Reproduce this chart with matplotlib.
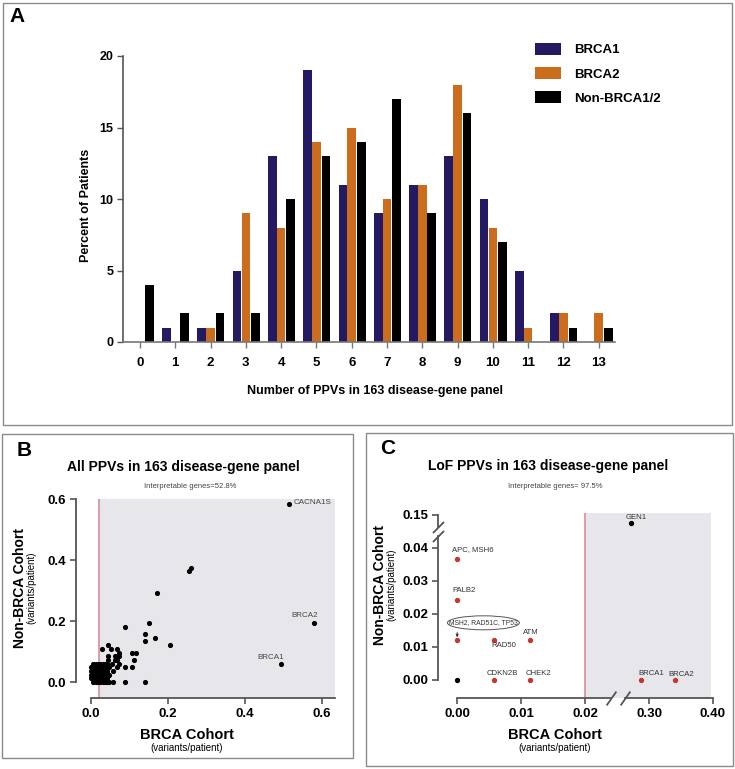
import matplotlib
matplotlib.use("Agg")
import numpy as np
import matplotlib.pyplot as plt
import matplotlib.transforms as mtransforms
from matplotlib.patches import Rectangle, Ellipse

plt.rcParams['font.family'] = ['Liberation Sans', 'DejaVu Sans']

# ---------------- data ----------------
n_ppv = list(range(14))
brca1_pct = [0, 1, 1, 5, 13, 19, 11, 9, 11, 13, 10, 5, 2, 0]
brca2_pct = [0, 0, 1, 9, 8, 14, 15, 10, 11, 18, 8, 1, 2, 2]
non_brca_pct = [4, 2, 2, 2, 10, 13, 14, 17, 9, 16, 7, 0, 1, 1]

# panel B: all PPVs, (BRCA cohort, non-BRCA cohort) variants/patient
b_x = [0.259, 0.254, 0.171, 0.089, 0.150, 0.139, 0.139, 0.166, 0.205, 0.106,
       0.117, 0.111, 0.106, 0.089, 0.089, 0.139, 0.058,
       0.029, 0.045, 0.051, 0.068, 0.074, 0.045, 0.062, 0.073, 0.045, 0.062,
       0.068, 0.074, 0.068, 0.058, 0.054,
       0.006, 0.012, 0.018, 0.024, 0.030, 0.036, 0.042,
       0.000, 0.006, 0.012, 0.018, 0.024, 0.030, 0.036, 0.042, 0.048,
       0.000, 0.006, 0.012, 0.018, 0.024, 0.030, 0.036, 0.042,
       0.000, 0.006, 0.012, 0.018, 0.024, 0.030, 0.036, 0.042, 0.048,
       0.000, 0.006, 0.012, 0.018, 0.024, 0.030, 0.036, 0.042,
       0.006, 0.012, 0.018, 0.024, 0.030, 0.036, 0.042, 0.048]
b_y = [0.375, 0.364, 0.292, 0.182, 0.194, 0.157, 0.134, 0.146, 0.121, 0.097,
       0.097, 0.073, 0.048, 0.048, 0.000, 0.000, 0.000,
       0.109, 0.121, 0.109, 0.109, 0.097, 0.085, 0.085, 0.085, 0.073, 0.073,
       0.073, 0.061, 0.049, 0.036, 0.061,
       0.060, 0.060, 0.060, 0.060, 0.060, 0.060, 0.060,
       0.048, 0.048, 0.048, 0.048, 0.048, 0.048, 0.048, 0.048, 0.048,
       0.036, 0.036, 0.036, 0.036, 0.036, 0.036, 0.036, 0.036,
       0.024, 0.024, 0.024, 0.024, 0.024, 0.024, 0.024, 0.024, 0.024,
       0.012, 0.012, 0.012, 0.012, 0.012, 0.012, 0.012, 0.012,
       0.000, 0.000, 0.000, 0.000, 0.000, 0.000, 0.000, 0.000]
b_named = ['CACNA1S', 'BRCA2', 'BRCA1']
b_named_x = [0.515, 0.580, 0.494]
b_named_y = [0.583, 0.193, 0.060]

# panel C: LoF PPVs
c_red_labels = ['APC, MSH6', 'PALB2', 'MSH2, RAD51C, TP53', 'RAD50', 'ATM',
                'CDKN2B', 'CHEK2', 'BRCA1', 'BRCA2']
c_red_x = [0.0, 0.0, 0.0, 0.0057, 0.0114, 0.0057, 0.0114, 0.288, 0.340]
c_red_y = [0.0366, 0.0242, 0.0121, 0.0121, 0.0121, 0.0, 0.0, 0.0, 0.0]
c_black_labels = ['', 'GEN1']
c_black_x = [0.0, 0.271]
c_black_y = [0.0, 0.1475]

W, H = 735, 769
fig = plt.figure(figsize=(W / 100, H / 100), dpi=100)


def fx(px):
    return px / W


def fy(py):
    return 1 - py / H


def box(x0, y0, x1, y1):
    fig.patches.append(Rectangle((fx(x0), fy(y1)), fx(x1 - x0), (y1 - y0) / H,
                                 transform=fig.transFigure, fill=False,
                                 edgecolor='#8a8a8a', lw=1.0))


box(3, 3, 732, 425)
box(2, 434, 353, 758)
box(366, 433, 733, 766)

C1, C2, C3 = '#241a63', '#cc6d1e', '#000000'
SP = '#555555'

# ---------------- panel A ----------------
axA = fig.add_axes([fx(123), fy(342), fx(615 - 123), (342 - 56) / H])
x = np.array(n_ppv)
w = 0.245
axA.bar(x - 0.25, brca1_pct, w, color=C1, label='BRCA1')
axA.bar(x, brca2_pct, w, color=C2, label='BRCA2')
axA.bar(x + 0.27, non_brca_pct, w, color=C3, label='Non-BRCA1/2')
axA.set_xlim(-0.48, 13.46)
axA.set_ylim(0, 20)
axA.set_yticks([0, 5, 10, 15, 20])
axA.set_xticks(n_ppv)
for s in ['top', 'right']:
    axA.spines[s].set_visible(False)
axA.spines['left'].set_color(SP)
axA.spines['bottom'].set_color('#777777')
axA.spines['left'].set_linewidth(1.2)
axA.spines['bottom'].set_linewidth(1.2)
axA.tick_params(axis='y', length=4, width=1, color=SP, labelsize=9, pad=3)
axA.tick_params(axis='x', length=4, width=1, color='#777777', labelsize=9.5, pad=7)
for t in axA.get_xticklabels() + axA.get_yticklabels():
    t.set_fontweight('bold')
fig.text(fx(86), fy(205), 'Percent of Patients', rotation=90, ha='center',
         va='center', fontsize=9, fontweight='bold')
fig.text(fx(375), fy(391), 'Number of PPVs in 163 disease-gene panel',
         ha='center', va='center', fontsize=9, fontweight='bold')
axA.legend(loc='upper left', bbox_to_anchor=(fx(528), fy(36)),
           bbox_transform=fig.transFigure, frameon=False,
           prop={'weight': 'bold', 'size': 9.5}, handlelength=2.0,
           handleheight=1.1, labelspacing=0.78, handletextpad=1.0, borderpad=0)
fig.text(fx(9), fy(16), 'A', fontsize=15, fontweight='bold', va='center')

# ---------------- panel B ----------------
axB = fig.add_axes([fx(76), fy(698), fx(335 - 76), (698 - 499) / H])
axB.set_xlim(-0.039, 0.634)
axB.set_ylim(-0.052, 0.6)
axB.axvspan(0.02, 0.634, color='#e7e7eb', lw=0, zorder=0)
axB.axvline(0.02, color='#d88d9c', lw=1.2, zorder=1)
axB.plot(b_x, b_y, 'o', color='black', ms=2.7, zorder=3)
axB.plot(b_named_x, b_named_y, 'o', color='black', ms=2.7, zorder=3)
axB.text(b_named_x[0] + 0.012, b_named_y[0] + 0.004, b_named[0], fontsize=5.8,
         color='#444444', va='center', ha='left')
axB.text(b_named_x[1] - 0.024, b_named_y[1] + 0.024, b_named[1], fontsize=5.8,
         color='#444444', va='center', ha='center')
axB.text(b_named_x[2] - 0.028, b_named_y[2] + 0.022, b_named[2], fontsize=5.8,
         color='#444444', va='center', ha='center')
axB.set_xticks([0, 0.2, 0.4, 0.6])
axB.set_yticks([0, 0.2, 0.4, 0.6])
axB.set_xticklabels(['0.0', '0.2', '0.4', '0.6'])
axB.set_yticklabels(['0.0', '0.2', '0.4', '0.6'])
for s in ['top', 'right']:
    axB.spines[s].set_visible(False)
axB.spines['left'].set_bounds(0, 0.6)
axB.spines['bottom'].set_bounds(0, 0.634)
for s in ['left', 'bottom']:
    axB.spines[s].set_color(SP)
    axB.spines[s].set_linewidth(1.3)
axB.tick_params(length=4, width=1.2, color=SP, labelsize=9.5, pad=3)
for t in axB.get_xticklabels() + axB.get_yticklabels():
    t.set_fontweight('bold')
fig.text(fx(17), fy(450), 'B', fontsize=15, fontweight='bold', va='center')
fig.text(fx(183), fy(467), 'All PPVs in 163 disease-gene panel', fontsize=10,
         fontweight='bold', ha='center', va='center')
fig.text(fx(190), fy(487), 'Interpretable genes=52.8%', fontsize=5.5,
         color='#444444', ha='center', va='center')
fig.text(fx(20), fy(588), 'Non-BRCA Cohort', rotation=90, fontsize=10,
         fontweight='bold', ha='center', va='center')
fig.text(fx(31), fy(588), '(variants/patient)', rotation=90, fontsize=7,
         ha='center', va='center')
fig.text(fx(187), fy(735), 'BRCA Cohort', fontsize=10.5, fontweight='bold',
         ha='center', va='center')
fig.text(fx(187), fy(748), '(variants/patient)', fontsize=7,
         ha='center', va='center')

# ---------------- panel C ----------------
xa = [-1.0, 0.0245, 0.25, 2.0]
xb = [-1.0, 0.0245, 0.025, 0.025 + 1.75 / 10]
ya = [-1.0, 0.044, 0.145, 2.0]
yb = [-1.0, 0.044, 0.045, 0.045 + 1.855]


def xf(v):
    return np.interp(v, xa, xb)


def xi(v):
    return np.interp(v, xb, xa)


def yf(v):
    return np.interp(v, ya, yb)


def yi(v):
    return np.interp(v, yb, ya)


axC = fig.add_axes([fx(438), fy(698), fx(713 - 438), (698 - 513) / H])
axC.set_xscale('function', functions=(xf, xi))
axC.set_yscale('function', functions=(yf, yi))
axC.set_xlim(-0.003, 0.40)
axC.set_ylim(-0.0055, 0.1506)
axC.axvspan(0.02, 0.397, color='#e7e7eb', lw=0, zorder=0)
axC.axvline(0.02, color='#d88d9c', lw=1.2, zorder=1)
axC.plot(c_red_x, c_red_y, 'o', color='#c8352b', ms=2.8, zorder=3)
axC.plot(c_black_x, c_black_y, 'o', color='black', ms=2.8, zorder=3)
lab_kw = dict(fontsize=5.6, color='#333333')
axC.text(-0.0008, c_red_y[0] + 0.0018, c_red_labels[0], ha='left', va='bottom', **lab_kw)
axC.text(-0.0008, c_red_y[1] + 0.0018, c_red_labels[1], ha='left', va='bottom', **lab_kw)

# grouped label in an ellipse with a small arrow to its point
grp_xy = (0.0041, 0.0173)
axC.annotate(c_red_labels[2], xy=(0.0, c_red_y[2] + 0.0008),
             xytext=(0.0, 0.0155), ha='center', va='center',
             arrowprops=dict(arrowstyle='-|>', color='#333333', lw=0.6,
                             shrinkA=0, shrinkB=0, mutation_scale=4),
             fontsize=0.1, color='none')
axC.text(grp_xy[0], grp_xy[1], c_red_labels[2], ha='center', va='center',
         fontsize=4.9, color='#333333')
fig.canvas.draw()
cxy = axC.transAxes.inverted().transform(axC.transData.transform(grp_xy))
axC.add_patch(Ellipse(cxy, 72 / 275, 14 / 185, transform=axC.transAxes,
                      fill=False, ec='#555555', lw=0.7, zorder=4))

axC.text(c_red_x[3] + 0.0016, c_red_y[3] - 0.0018, c_red_labels[3], ha='center', va='center', **lab_kw)
axC.text(c_red_x[4] + 0.0001, c_red_y[4] + 0.0022, c_red_labels[4], ha='center', va='center', **lab_kw)
axC.text(c_red_x[5] + 0.0014, c_red_y[5] + 0.0018, c_red_labels[5], ha='center', va='center', **lab_kw)
axC.text(c_red_x[6] + 0.0013, c_red_y[6] + 0.0018, c_red_labels[6], ha='center', va='center', **lab_kw)
axC.text(c_red_x[7] + 0.015, c_red_y[7] + 0.0018, c_red_labels[7], ha='center', va='center', **lab_kw)
axC.text(c_red_x[8] + 0.010, c_red_y[8] + 0.0015, c_red_labels[8], ha='center', va='center', **lab_kw)
axC.text(c_black_x[1] + 0.009, 0.1493, c_black_labels[1], ha='center', va='center', **lab_kw)

axC.set_xticks([0, 0.01, 0.02, 0.30, 0.40])
axC.set_xticklabels(['0.00', '0.01', '0.02', '0.30', '0.40'])
axC.set_yticks([0, 0.01, 0.02, 0.03, 0.04, 0.15])
axC.set_yticklabels(['0.00', '0.01', '0.02', '0.03', '0.04', '0.15'])
axC.xaxis.set_minor_locator(matplotlib.ticker.NullLocator())
axC.yaxis.set_minor_locator(matplotlib.ticker.NullLocator())
for s in ['top', 'right']:
    axC.spines[s].set_visible(False)
axC.spines['left'].set_bounds(0, 0.0435)
axC.spines['bottom'].set_bounds(0, 0.024)
for s in ['left', 'bottom']:
    axC.spines[s].set_color(SP)
    axC.spines[s].set_linewidth(1.3)
tr_y = mtransforms.blended_transform_factory(axC.transAxes, axC.transData)
tr_x = mtransforms.blended_transform_factory(axC.transData, axC.transAxes)
axC.plot([0, 0], [0.1465, 0.15], color=SP, lw=1.3, transform=tr_y, clip_on=False)
axC.plot([0.263, 0.40], [0, 0], color=SP, lw=1.3, transform=tr_x, clip_on=False)
axC.plot([0, 0], [0.0435, 0.1465], transform=tr_y, ls='none', marker=[(-1, -1), (1, 1)],
         ms=8, mew=1.3, color=SP, clip_on=False)
axC.plot([0.024, 0.263], [0, 0], transform=tr_x, ls='none', marker=[(-0.7, -1), (0.7, 1)],
         ms=10, mew=1.3, color=SP, clip_on=False)
axC.tick_params(length=4, width=1.2, color=SP, labelsize=9.5, pad=3)
for t in axC.get_xticklabels() + axC.get_yticklabels():
    t.set_fontweight('bold')
fig.text(fx(380), fy(448), 'C', fontsize=15, fontweight='bold', va='center')
fig.text(fx(548), fy(466), 'LoF PPVs in 163 disease-gene panel', fontsize=10,
         fontweight='bold', ha='center', va='center')
fig.text(fx(555), fy(487), 'Interpretable genes= 97.5%', fontsize=5.5,
         color='#444444', ha='center', va='center')
fig.text(fx(380), fy(585), 'Non-BRCA Cohort', rotation=90, fontsize=10,
         fontweight='bold', ha='center', va='center')
fig.text(fx(391), fy(585), '(variants/patient)', rotation=90, fontsize=7,
         ha='center', va='center')
fig.text(fx(555), fy(735), 'BRCA Cohort', fontsize=10.5, fontweight='bold',
         ha='center', va='center')
fig.text(fx(555), fy(748), '(variants/patient)', fontsize=7,
         ha='center', va='center')

fig.savefig('out.png', dpi=100)
